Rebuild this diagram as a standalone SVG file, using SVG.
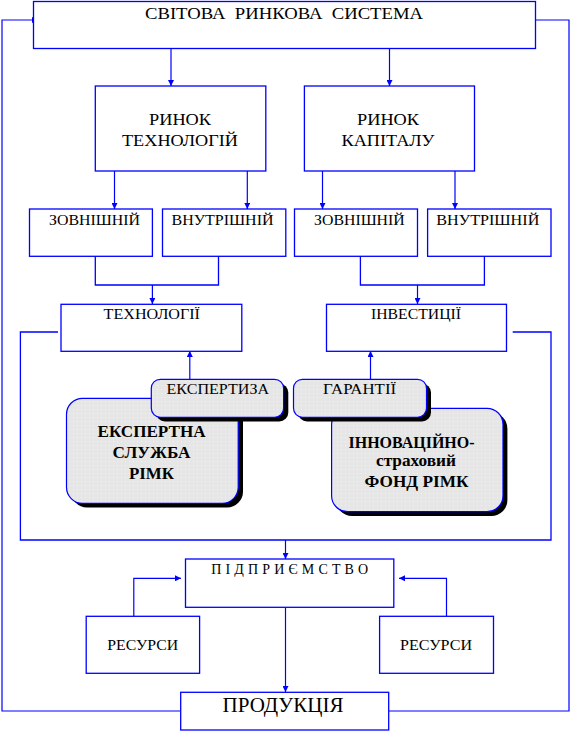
<svg xmlns="http://www.w3.org/2000/svg" width="570" height="731" viewBox="0 0 570 731" font-family="'Liberation Serif', 'Times New Roman', serif">
<defs>
<marker id="ah" viewBox="0 0 6 6" refX="6" refY="3" markerWidth="6" markerHeight="6" markerUnits="userSpaceOnUse" orient="auto">
<path d="M0,0 L6,3 L0,6 Z" fill="#0000ff"/>
</marker>
<pattern id="dots" width="4" height="4" patternUnits="userSpaceOnUse">
<rect width="4" height="4" fill="#e6e6e6"/>
<rect x="1" y="1" width="1" height="1" fill="#f2f2f2"/>
</pattern>
</defs>
<style>
.box{fill:#fff;stroke:#0000ff;stroke-width:1.3}
.rbox{fill:url(#dots);stroke:#0000ff;stroke-width:1.2}
.sh{fill:#000}
.ln{fill:none;stroke:#0000ff;stroke-width:1.3}
.ar{fill:none;stroke:#0000ff;stroke-width:1.2;marker-end:url(#ah)}
text{fill:#000;text-anchor:middle}
.t17{font-size:17px}
.t14{font-size:14px}
.b{font-size:17px;font-weight:bold}
</style>
<rect width="570" height="731" fill="#fff"/>

<g id="connectors">
<path class="ar" d="M180,711 H2 V20 H38"/>
<path class="ar" d="M389,711 H569 V20 H530"/>
<path class="ar" d="M171,48 V86"/>
<path class="ar" d="M389.5,48 V86"/>
<path class="ar" d="M114.5,171 V209"/>
<path class="ar" d="M247.3,171 V209"/>
<path class="ar" d="M322.5,171 V209"/>
<path class="ar" d="M455,171 V209"/>
<path class="ln" d="M95.3,256 V285 H218.5 V256"/>
<path class="ar" d="M152.4,285 V304"/>
<path class="ln" d="M360.4,256 V285 H484.4 V256"/>
<path class="ar" d="M417.5,285 V304"/>
<path class="ar" d="M189.8,379 V351"/>
<path class="ar" d="M370.5,379 V351"/>
<path class="ln" d="M58,332 H20.4 V540 H551 V332 H512.7"/>
<path class="ar" d="M285.5,540 V559"/>
<path class="ar" d="M133.8,616 V578.3 H181"/>
<path class="ar" d="M446.5,616 V578.3 H399"/>
<path class="ar" d="M285.5,607 V692"/>
</g>

<g id="world-market-system">
<rect class="box" x="33.5" y="1.5" width="502" height="47"/>
<text class="t17" x="284" y="19" textLength="278" lengthAdjust="spacingAndGlyphs" xml:space="preserve">СВІТОВА  РИНКОВА  СИСТЕМА</text>
</g>

<g id="tech-market">
<rect class="box" x="95.3" y="86" width="170.5" height="85"/>
<text class="t17" x="180" y="125" textLength="62" lengthAdjust="spacingAndGlyphs">РИНОК</text>
<text class="t17" x="180" y="145.7" textLength="116" lengthAdjust="spacingAndGlyphs">ТЕХНОЛОГІЙ</text>
</g>

<g id="capital-market">
<rect class="box" x="304.4" y="86" width="170.1" height="85"/>
<text class="t17" x="388" y="125" textLength="62" lengthAdjust="spacingAndGlyphs">РИНОК</text>
<text class="t17" x="388" y="145.7" textLength="93" lengthAdjust="spacingAndGlyphs">КАПІТАЛУ</text>
</g>

<g id="tech-external">
<rect class="box" x="29.5" y="209" width="122.9" height="47.3"/>
<text class="t14" x="94.5" y="225" textLength="91" lengthAdjust="spacingAndGlyphs">ЗОВНІШНІЙ</text>
</g>
<g id="tech-internal">
<rect class="box" x="162.5" y="209" width="123.3" height="47.3"/>
<text class="t14" x="222.5" y="225" textLength="102" lengthAdjust="spacingAndGlyphs">ВНУТРІШНІЙ</text>
</g>
<g id="capital-external">
<rect class="box" x="294.5" y="209" width="123" height="47.3"/>
<text class="t14" x="359.4" y="225" textLength="90.7" lengthAdjust="spacingAndGlyphs">ЗОВНІШНІЙ</text>
</g>
<g id="capital-internal">
<rect class="box" x="427.6" y="209" width="123.4" height="47.3"/>
<text class="t14" x="487.8" y="225" textLength="103" lengthAdjust="spacingAndGlyphs">ВНУТРІШНІЙ</text>
</g>

<g id="technologies">
<rect class="box" x="61" y="304.3" width="180.8" height="47"/>
<text class="t14" x="151.8" y="319" textLength="96.4" lengthAdjust="spacingAndGlyphs">ТЕХНОЛОГІЇ</text>
</g>
<g id="investments">
<rect class="box" x="326.5" y="304.3" width="180" height="47"/>
<text class="t14" x="416" y="319" textLength="90" lengthAdjust="spacingAndGlyphs">ІНВЕСТИЦІЇ</text>
</g>

<g id="expert-service">
<rect class="sh" x="71" y="402.5" width="172" height="105" rx="16"/>
<rect class="rbox" x="66.5" y="398.3" width="171.7" height="105" rx="16"/>
<text class="b" x="151.5" y="437.3" textLength="108" lengthAdjust="spacingAndGlyphs">ЕКСПЕРТНА</text>
<text class="b" x="151.5" y="458.3" textLength="78" lengthAdjust="spacingAndGlyphs">СЛУЖБА</text>
<text class="b" x="151.5" y="479" textLength="45" lengthAdjust="spacingAndGlyphs">РІМК</text>
</g>
<g id="expertise">
<rect class="sh" x="156" y="383.5" width="132.3" height="38" rx="9"/>
<rect class="rbox" x="151.3" y="379.3" width="132.3" height="38" rx="9"/>
<text class="t14" x="217.8" y="394.3" textLength="102.5" lengthAdjust="spacingAndGlyphs">ЕКСПЕРТИЗА</text>
</g>

<g id="innovation-fund">
<rect class="sh" x="336" y="412.5" width="171.4" height="103.4" rx="16"/>
<rect class="rbox" x="331.6" y="408.3" width="171.4" height="103.4" rx="16"/>
<text class="b" x="411.5" y="448.3" textLength="126" lengthAdjust="spacingAndGlyphs">ІННОВАЦІЙНО-</text>
<text class="b" x="416" y="466" textLength="80" lengthAdjust="spacingAndGlyphs">страховий</text>
<text class="b" x="416.5" y="487.3" textLength="104" lengthAdjust="spacingAndGlyphs">ФОНД РІМК</text>
</g>
<g id="guarantees">
<rect class="sh" x="298" y="383.5" width="133" height="38" rx="9"/>
<rect class="rbox" x="293.5" y="379.3" width="133" height="38" rx="9"/>
<text class="t14" x="359.6" y="394.3" textLength="73" lengthAdjust="spacingAndGlyphs">ГАРАНТІЇ</text>
</g>

<g id="enterprise">
<rect class="box" x="185.5" y="559" width="208.3" height="48.3"/>
<text class="t14" x="289.7" y="574" textLength="157" lengthAdjust="spacing">П І Д П Р И Є М С Т В О</text>
</g>
<g id="resources-left">
<rect class="box" x="86.2" y="616.3" width="113.4" height="57"/>
<text class="t14" x="142.7" y="650" textLength="71" lengthAdjust="spacingAndGlyphs">РЕСУРСИ</text>
</g>
<g id="resources-right">
<rect class="box" x="379.6" y="616.3" width="113.9" height="57"/>
<text class="t14" x="436" y="650" textLength="72" lengthAdjust="spacingAndGlyphs">РЕСУРСИ</text>
</g>
<g id="product">
<rect class="box" x="180.7" y="692.3" width="208" height="37.7"/>
<text x="283" y="711.7" font-size="20" textLength="121" lengthAdjust="spacingAndGlyphs">ПРОДУКЦІЯ</text>
</g>
</svg>
